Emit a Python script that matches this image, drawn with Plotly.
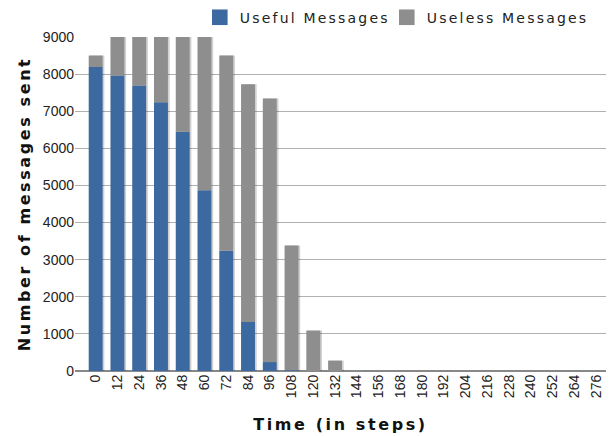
import plotly.graph_objects as go

steps = [str(s) for s in range(0, 277, 12)]
useful = [8190, 7960, 7690, 7240, 6450, 4870, 3240, 1320, 240, 20, 0, 0,
          0, 0, 0, 0, 0, 0, 0, 0, 0, 0, 0, 0]
useless = [310, 1300, 1600, 2100, 2800, 4300, 5260, 6410, 7100, 3360, 1090, 280,
           15, 0, 0, 0, 0, 0, 0, 0, 0, 0, 0, 0]
totals = [a + b for a, b in zip(useful, useless)]

fig = go.Figure()
# soft drop shadow behind bars
fig.add_trace(go.Bar(x=steps, y=totals, marker_color="rgba(0,0,0,0.18)",
                     marker_line_width=0, width=0.68, offset=-0.28,
                     showlegend=False, hoverinfo="skip"))
fig.add_trace(go.Bar(x=steps, y=useful, name="Useful Messages",
                     marker_color="#3c69a0", marker_line_width=0, width=0.64, offset=-0.32))
fig.add_trace(go.Bar(x=steps, y=useless, name="Useless Messages", base=useful,
                     marker_color="#8e8e8e", marker_line_width=0, width=0.64, offset=-0.32))

fig.update_layout(
    width=611, height=436,
    barmode="overlay",
    plot_bgcolor="white", paper_bgcolor="white",
    margin=dict(l=75, r=5, t=37, b=65, autoexpand=False),
    font=dict(family="Liberation Sans, Arial", size=14, color="#222"),
    legend=dict(orientation="h", x=0.235, xanchor="left", y=1.01, yanchor="bottom",
                font=dict(family="DejaVu Sans", size=14, color="#222"),
                entrywidth=142, entrywidthmode="pixels",
                itemwidth=30, traceorder="normal"),
    xaxis=dict(type="category", range=[-0.95, 23.45], tickangle=-90,
               showgrid=False, ticks="", showline=False, automargin=False,
               tickfont=dict(size=14),
               title=dict(text="Time (in steps)", standoff=21,
                          font=dict(family="DejaVu Sans", size=16, weight="bold", color="#111"))),
    yaxis=dict(range=[0, 9000], dtick=1000, showgrid=True, gridcolor="#b0b0b0",
               gridwidth=1, zeroline=True, zerolinecolor="#888", zerolinewidth=1.5,
               ticks="", automargin=False, tickfont=dict(size=14),
               title=dict(text="Number of messages sent", standoff=8,
                          font=dict(family="DejaVu Sans", size=16, weight="bold", color="#111"))),
)
fig.data[1].legendrank = 1
fig.data[2].legendrank = 2

post = """
document.body.style.margin='0';
document.querySelectorAll('.legend [clip-path]').forEach(function(e){e.removeAttribute('clip-path');});
document.querySelectorAll('.legend .legendpoints path').forEach(function(e){
  e.setAttribute('transform', (e.getAttribute('transform')||'') + ' scale(1.3)');
});
document.querySelectorAll('.legendtext').forEach(function(e){e.style.letterSpacing='2.2px';});
document.querySelectorAll('.xtitle,.ytitle').forEach(function(e){e.style.letterSpacing='2.6px';});
"""
fig.write_html("out.html", post_script=post, config={"displayModeBar": False})
